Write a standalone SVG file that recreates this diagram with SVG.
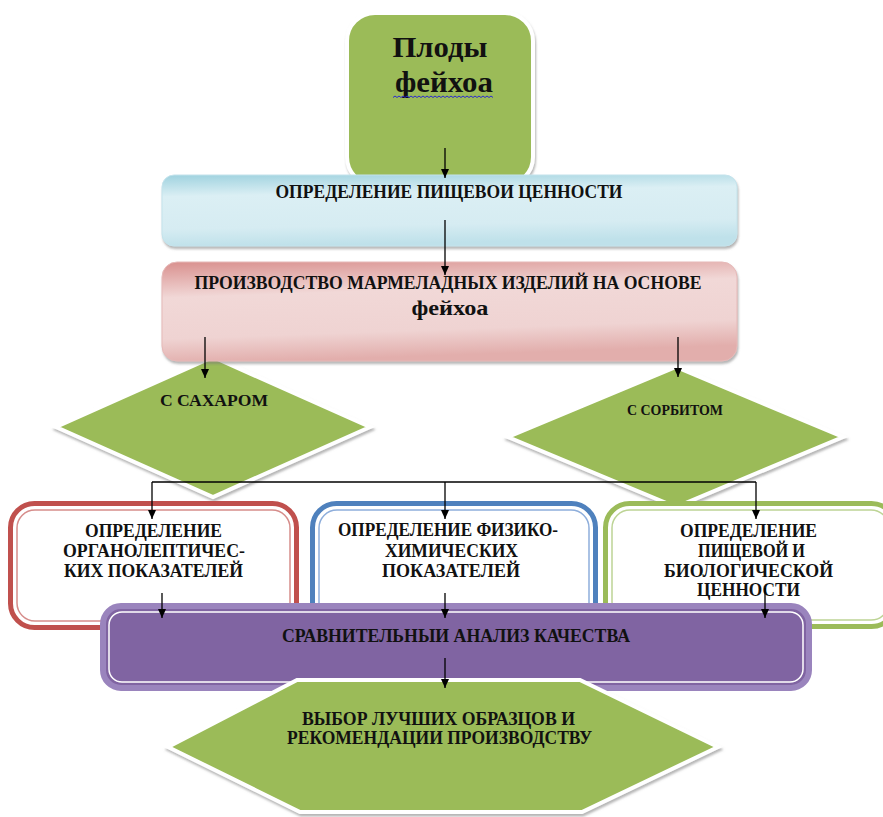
<svg xmlns="http://www.w3.org/2000/svg" width="883" height="817" viewBox="0 0 883 817">
<style>
  text { font-family: "Liberation Serif", "Times New Roman", serif; font-weight: bold; fill: #111; text-anchor: middle; }
  .t17 { font-size: 18px; }
  .green { fill: #9BBB59; stroke: #ffffff; stroke-width: 4; filter: url(#sh); }
  .cn { stroke: #000; stroke-width: 1.3; fill: none; marker-end: url(#ah); }
</style>
<defs>
  <filter id="sh" x="-10%" y="-10%" width="125%" height="130%">
    <feDropShadow dx="1" dy="2.5" stdDeviation="1.3" flood-color="#7a7a7a" flood-opacity="0.55"/>
  </filter>
  <linearGradient id="gBlue" x1="0" y1="0" x2="0.15" y2="1">
    <stop offset="0" stop-color="#9fd2df"/>
    <stop offset="0.3" stop-color="#dbeff4"/>
    <stop offset="0.75" stop-color="#d6ecf2"/>
    <stop offset="1" stop-color="#bfe1ea"/>
  </linearGradient>
  <linearGradient id="gPink" x1="0" y1="0" x2="0.2" y2="1">
    <stop offset="0" stop-color="#d9908e"/>
    <stop offset="0.35" stop-color="#f1d8d7"/>
    <stop offset="0.75" stop-color="#efd3d2"/>
    <stop offset="1" stop-color="#e2aeac"/>
  </linearGradient>
  <marker id="ah" markerWidth="10" markerHeight="8" refX="9" refY="4" orient="auto" markerUnits="userSpaceOnUse">
    <path d="M0,0 L9,4 L0,8 Z" fill="#000"/>
  </marker>
</defs>

<g id="node-plody">
  <rect x="347" y="13" width="186" height="172" rx="28" class="green"/>
  <text x="440" y="57" style="font-size:30px" textLength="95" lengthAdjust="spacingAndGlyphs">Плоды</text>
  <text x="444" y="92" style="font-size:30px" textLength="98" lengthAdjust="spacingAndGlyphs">фейхоа</text>
  <path d="M393,97.5 l2,-1.5 2,1.5 2,-1.5 2,1.5 2,-1.5 2,1.5 2,-1.5 2,1.5 2,-1.5 2,1.5 2,-1.5 2,1.5 2,-1.5 2,1.5 2,-1.5 2,1.5 2,-1.5 2,1.5 2,-1.5 2,1.5 2,-1.5 2,1.5 2,-1.5 2,1.5 2,-1.5 2,1.5 2,-1.5 2,1.5 2,-1.5 2,1.5 2,-1.5 2,1.5 2,-1.5 2,1.5 2,-1.5 2,1.5 2,-1.5 2,1.5 2,-1.5 2,1.5 2,-1.5 2,1.5 2,-1.5 2,1.5 2,-1.5 2,1.5 2,-1.5 2,1.5 2,-1.5 2,1.5" fill="none" stroke="#2a2ad0" stroke-width="1"/>
</g>

<g id="node-sugar">
  <polygon points="56,427 213,357 370,427 213,497" class="green"/>
  <text x="214" y="406" style="font-size:17px" textLength="108" lengthAdjust="spacingAndGlyphs">С САХАРОМ</text>
</g>

<g id="node-sorbitol">
  <polygon points="508,437 676,367 843,437 676,507" class="green"/>
  <text x="675" y="415" style="font-size:15px" textLength="96" lengthAdjust="spacingAndGlyphs">С СОРБИТОМ</text>
</g>

<g id="node-nutrition">
  <rect x="162" y="175" width="575" height="71" rx="12" fill="url(#gBlue)" stroke="#c4e3ec" stroke-width="1" filter="url(#sh)"/>
  <text x="449" y="198" class="t17" textLength="347" lengthAdjust="spacingAndGlyphs">ОПРЕДЕЛЕНИЕ ПИЩЕВОИ ЦЕННОСТИ</text>
</g>

<g id="node-production">
  <rect x="162" y="262" width="575" height="99" rx="15" fill="url(#gPink)" stroke="#e6b9b8" stroke-width="1" filter="url(#sh)"/>
  <text x="448" y="289" class="t17" textLength="507" lengthAdjust="spacingAndGlyphs">ПРОИЗВОДСТВО МАРМЕЛАДНЫХ ИЗДЕЛИЙ НА ОСНОВЕ</text>
  <text x="450" y="315" style="font-size:22px" textLength="77" lengthAdjust="spacingAndGlyphs">фейхоа</text>
</g>

<g id="node-organoleptic">
  <rect x="10.5" y="503.5" width="286" height="124" rx="24" fill="#fff" stroke="#C0504D" stroke-width="5"/>
  <rect x="17" y="510" width="273" height="111" rx="18" fill="none" stroke="#d68d8b" stroke-width="1.5"/>
  <text x="153.5" y="537" class="t17" textLength="137" lengthAdjust="spacingAndGlyphs">ОПРЕДЕЛЕНИЕ</text>
  <text x="154" y="557" class="t17" textLength="182" lengthAdjust="spacingAndGlyphs">ОРГАНОЛЕПТИЧЕС-</text>
  <text x="153.5" y="577" class="t17" textLength="179" lengthAdjust="spacingAndGlyphs">КИХ ПОКАЗАТЕЛЕЙ</text>
</g>

<g id="node-physchem">
  <rect x="312.5" y="503.5" width="283" height="124" rx="24" fill="#fff" stroke="#4F81BD" stroke-width="5"/>
  <rect x="319" y="510" width="270" height="111" rx="18" fill="none" stroke="#8eaedb" stroke-width="1.5"/>
  <text x="448" y="536" class="t17" textLength="220" lengthAdjust="spacingAndGlyphs">ОПРЕДЕЛЕНИЕ ФИЗИКО-</text>
  <text x="451.5" y="557" class="t17" textLength="133" lengthAdjust="spacingAndGlyphs">ХИМИЧЕСКИХ</text>
  <text x="451" y="577" class="t17" textLength="138" lengthAdjust="spacingAndGlyphs">ПОКАЗАТЕЛЕЙ</text>
</g>

<g id="node-biological">
  <rect x="605.5" y="503.5" width="290" height="123" rx="24" fill="#fff" stroke="#9BBB59" stroke-width="5"/>
  <rect x="612" y="510" width="277" height="110" rx="18" fill="none" stroke="#bdd495" stroke-width="1.5"/>
  <text x="748.5" y="537" class="t17" textLength="137" lengthAdjust="spacingAndGlyphs">ОПРЕДЕЛЕНИЕ</text>
  <text x="751.5" y="557" class="t17" textLength="107" lengthAdjust="spacingAndGlyphs">ПИЩЕВОЙ И</text>
  <text x="748.5" y="577" class="t17" textLength="169" lengthAdjust="spacingAndGlyphs">БИОЛОГИЧЕСКОЙ</text>
  <text x="748.5" y="596" class="t17" textLength="103" lengthAdjust="spacingAndGlyphs">ЦЕННОСТИ</text>
</g>

<g id="node-comparison">
  <rect x="103" y="606" width="706" height="82" rx="18" fill="#8064A2" stroke="#9a84bd" stroke-width="6"/>
  <rect x="109" y="612" width="694" height="70" rx="13" fill="none" stroke="#ffffff" stroke-width="1.5"/>
  <text x="456" y="642" class="t17" textLength="348" lengthAdjust="spacingAndGlyphs">СРАВНИТЕЛЬНЫИ АНАЛИЗ КАЧЕСТВА</text>
</g>

<g id="node-selection">
  <polygon points="297,680 580,680 718,747 582,812 300,812 168,747" class="green"/>
  <text x="438.5" y="725" class="t17" textLength="273" lengthAdjust="spacingAndGlyphs">ВЫБОР ЛУЧШИХ ОБРАЗЦОВ И</text>
  <text x="439.5" y="744" class="t17" textLength="305" lengthAdjust="spacingAndGlyphs">РЕКОМЕНДАЦИИ ПРОИЗВОДСТВУ</text>
</g>

<g id="connectors">
  <path class="cn" d="M445,148 V178"/>
  <path class="cn" d="M445,220 V275"/>
  <path class="cn" d="M205,337 V378"/>
  <path class="cn" d="M678,337 V377"/>
  <path d="M152,482 H756" stroke="#000" stroke-width="1.3" fill="none"/>
  <path class="cn" d="M152,482 V519"/>
  <path class="cn" d="M445,482 V519"/>
  <path class="cn" d="M756,482 V519"/>
  <path class="cn" d="M162,593 V618"/>
  <path class="cn" d="M445,593 V618"/>
  <path class="cn" d="M765,588 V618"/>
  <path class="cn" d="M445,658 V688"/>
</g>
</svg>
